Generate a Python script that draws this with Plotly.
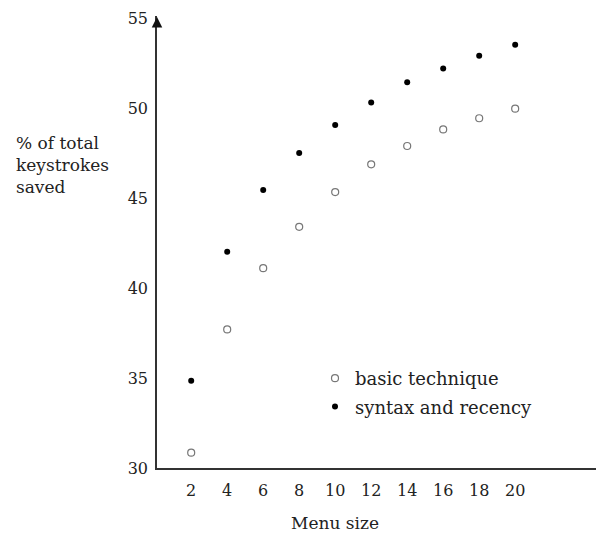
import plotly.graph_objects as go

menu_size = [2, 4, 6, 8, 10, 12, 14, 16, 18, 20]
basic_technique = [30.85, 37.7, 41.1, 43.4, 45.33, 46.87, 47.89, 48.81, 49.43, 49.96]
syntax_recency = [34.85, 42.02, 45.44, 47.5, 49.05, 50.3, 51.43, 52.2, 52.9, 53.52]
y_ticks = [30, 35, 40, 45, 50, 55]

FONT = "DejaVu Serif"
TXT = "#222222"

fig = go.Figure()
fig.add_trace(go.Scatter(
    x=menu_size, y=basic_technique, mode="markers", name="basic technique",
    legendgroup="a",
    marker=dict(symbol="circle-open", size=7, color="#777777", line=dict(width=1.2)),
))
fig.add_trace(go.Scatter(
    x=menu_size, y=syntax_recency, mode="markers", name="syntax and recency",
    legendgroup="b",
    marker=dict(symbol="circle", size=6, color="black"),
))

fig.update_layout(
    width=597, height=533,
    margin=dict(l=157, r=1, t=16, b=65),
    plot_bgcolor="white", paper_bgcolor="white",
    font=dict(family=FONT, size=16, color=TXT),
    showlegend=True,
    legend=dict(
        x=(315 - 157) / 439, y=(468 - 360) / 452, xanchor="left", yanchor="top",
        font=dict(family=FONT, size=18, color=TXT),
        bgcolor="rgba(0,0,0,0)", tracegroupgap=2, traceorder="grouped",
    ),
    xaxis=dict(
        range=[0.1, 24.49], tickvals=menu_size, showgrid=False, zeroline=False,
        showline=True, linecolor="#333333", linewidth=1.5,
        ticks="outside", ticklen=7, tickcolor="rgba(0,0,0,0)",
        tickfont=dict(family=FONT, size=16, color=TXT),
    ),
    yaxis=dict(
        range=[30, 30 + 452 / 18], tickvals=y_ticks, showgrid=False, zeroline=False,
        showline=True, linecolor="#333333", linewidth=1.5,
        ticks="outside", ticklen=4, tickcolor="rgba(0,0,0,0)",
        tickfont=dict(family=FONT, size=16, color=TXT),
    ),
)

# arrowhead at top of y axis
fig.add_annotation(
    x=0, xref="paper", y=55.05, yref="y", ax=0, ay=10, axref="pixel", ayref="pixel",
    text="", showarrow=True, arrowhead=2, arrowsize=1.4, arrowwidth=1.5, arrowcolor="#111111",
)
# y-axis label
fig.add_annotation(
    x=(14 - 157) / 439, xref="paper", y=(468 - 131) / 452, yref="paper",
    xanchor="left", yanchor="top", align="left", showarrow=False,
    text="% of total<br>keystrokes<br>saved",
    font=dict(family=FONT, size=17, color=TXT),
)
# x-axis label
fig.add_annotation(
    x=10, xref="x", y=(468 - 523) / 452, yref="paper",
    xanchor="center", yanchor="middle", showarrow=False,
    text="Menu size", font=dict(family=FONT, size=17, color=TXT),
)

fig.write_html(
    "out.html",
    config={"displayModeBar": False},
    post_script="document.body.style.margin='0';document.body.style.padding='0';",
)
